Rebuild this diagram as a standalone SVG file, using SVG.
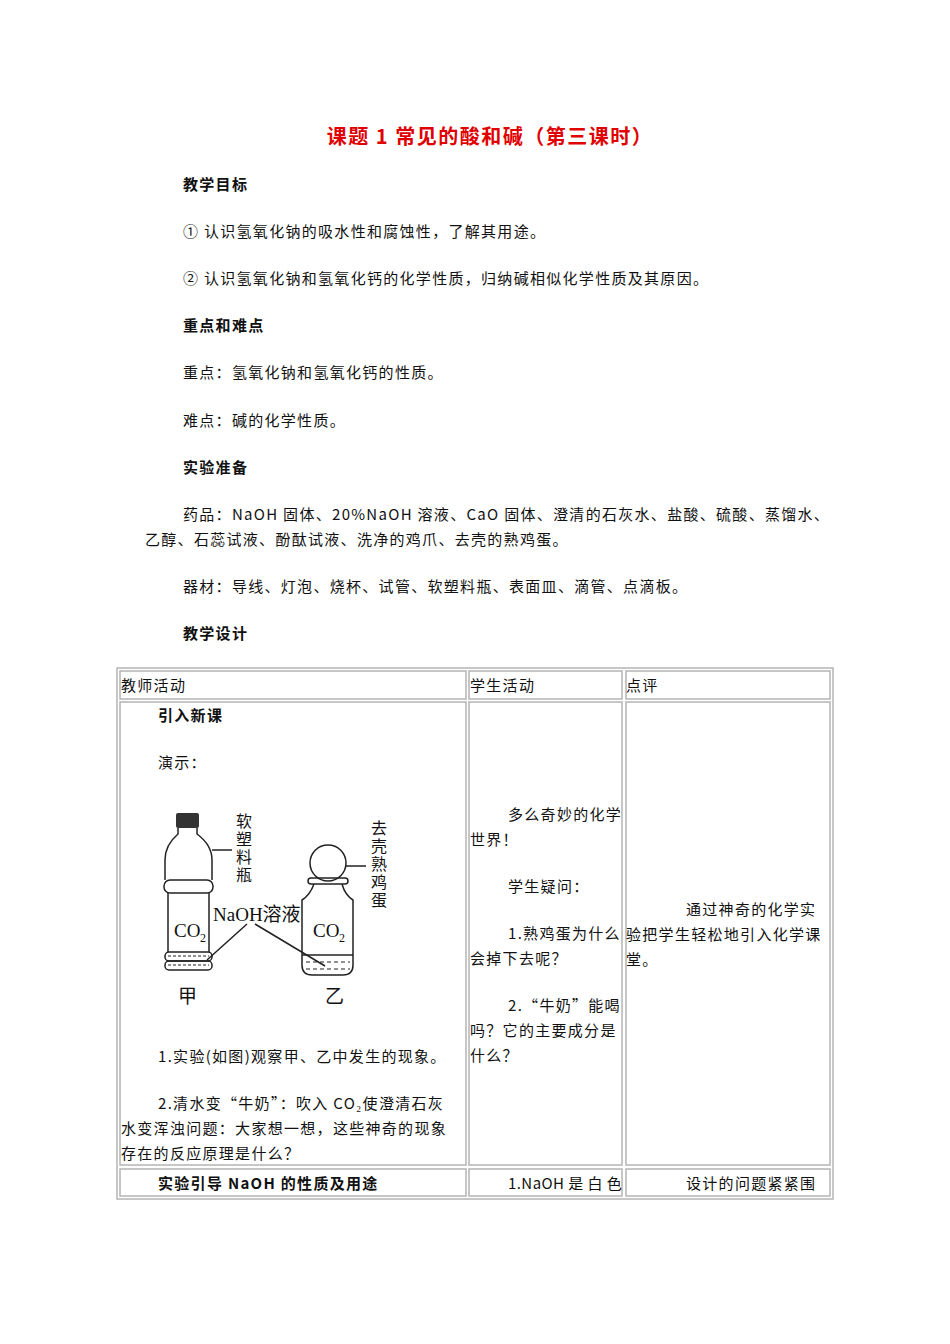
<svg xmlns="http://www.w3.org/2000/svg" width="950" height="1344" viewBox="0 0 950 1344">
<style>
text{font-family:"Noto Sans CJK SC","Liberation Serif",sans-serif;font-size:15px;fill:#111;letter-spacing:1.3px}
.b{font-weight:bold}
.t{font-size:20px;font-weight:bold;fill:#e00000;letter-spacing:1.5px}
.g{fill:none;stroke:#b4b4b4;stroke-width:1.5}
.k{fill:none;stroke:#222;stroke-width:1.5}
.f{font-family:"Liberation Serif","Noto Sans CJK SC",serif;font-size:19px;letter-spacing:0}
.v{font-size:16px;letter-spacing:2px;writing-mode:vertical-rl}
</style>
<rect width="950" height="1344" fill="#fff"/>
<text class="t" x="490" y="144" text-anchor="middle">课题 1  常见的酸和碱（第三课时）</text>
<text class="b" x="183" y="190">教学目标</text>
<text x="183" y="237">① 认识氢氧化钠的吸水性和腐蚀性，了解其用途。</text>
<text x="183" y="284">② 认识氢氧化钠和氢氧化钙的化学性质，归纳碱相似化学性质及其原因。</text>
<text class="b" x="183" y="331">重点和难点</text>
<text x="183" y="378">重点：氢氧化钠和氢氧化钙的性质。</text>
<text x="183" y="426">难点：碱的化学性质。</text>
<text class="b" x="183" y="473">实验准备</text>
<text x="183" y="520">药品：NaOH 固体、20%NaOH 溶液、CaO 固体、澄清的石灰水、盐酸、硫酸、蒸馏水、</text>
<text x="145" y="545">乙醇、石蕊试液、酚酞试液、洗净的鸡爪、去壳的熟鸡蛋。</text>
<text x="183" y="592">器材：导线、灯泡、烧杯、试管、软塑料瓶、表面皿、滴管、点滴板。</text>
<text class="b" x="183" y="639">教学设计</text>
<g id="table">
<rect class="g" x="117" y="668" width="716" height="531"/>
<rect class="g" x="120" y="671" width="346" height="28"/>
<rect class="g" x="469" y="671" width="153" height="28"/>
<rect class="g" x="626" y="671" width="204" height="28"/>
<rect class="g" x="120" y="702" width="346" height="463"/>
<rect class="g" x="469" y="702" width="153" height="463"/>
<rect class="g" x="626" y="702" width="204" height="463"/>
<rect class="g" x="120" y="1169" width="346" height="27"/>
<rect class="g" x="469" y="1169" width="153" height="27"/>
<rect class="g" x="626" y="1169" width="204" height="27"/>
</g>
<text x="121" y="691">教师活动</text>
<text x="470" y="691">学生活动</text>
<text x="626" y="691">点评</text>
<text class="b" x="158" y="721">引入新课</text>
<text x="158" y="768">演示：</text>
<text x="158" y="1062">1.实验(如图)观察甲、乙中发生的现象。</text>
<text x="158" y="1109">2.清水变“牛奶”：吹入 CO₂使澄清石灰</text>
<text x="121" y="1134">水变浑浊问题：大家想一想，这些神奇的现象</text>
<text x="121" y="1159">存在的反应原理是什么？</text>
<text class="b" x="158" y="1189">实验引导 NaOH 的性质及用途</text>
<text x="508" y="820">多么奇妙的化学</text>
<text x="470" y="845">世界！</text>
<text x="508" y="892">学生疑问：</text>
<text x="508" y="939">1.熟鸡蛋为什么</text>
<text x="470" y="964">会掉下去呢？</text>
<text x="508" y="1011">2.“牛奶”能喝</text>
<text x="470" y="1036">吗？它的主要成分是</text>
<text x="470" y="1061">什么？</text>
<text x="508" y="1189" textLength="115">1.NaOH 是 白 色</text>
<text x="686" y="915">通过神奇的化学实</text>
<text x="626" y="940">验把学生轻松地引入化学课</text>
<text x="626" y="965">堂。</text>
<text x="686" y="1189">设计的问题紧紧围</text>
<g id="figure">
<rect x="176" y="813" width="23" height="15" rx="2" fill="#333"/>
<path class="k" d="M178 828 L178 834 Q165 845 165 860 L165 880 M197 828 L197 834 Q212 845 212 860 L212 880"/>
<rect class="k" x="164" y="880" width="49" height="13" rx="6"/>
<path class="k" d="M168 893 V952 M209 893 V952"/>
<rect class="k" x="165" y="952" width="47" height="9" rx="4"/>
<rect class="k" x="165" y="961" width="47" height="9" rx="4"/>
<path d="M168 956 H209 M168 965 H209" stroke="#222" stroke-dasharray="3 2"/>
<path class="k" d="M212 850 H232"/>
<text class="f" x="174" y="937">CO</text><text class="f" x="200" y="942" style="font-size:12px">2</text>
<text class="f" x="178" y="1003">甲</text>
<circle class="k" cx="328" cy="863" r="18"/>
<rect class="k" x="308" y="878" width="40" height="6" rx="3"/>
<path class="k" d="M314 884 Q310 895 302 900 V965 Q302 975 312 975 H343 Q353 975 353 965 V900 Q345 895 342 884"/>
<path class="k" d="M302 955 H353"/>
<path d="M306 962 H350 M306 969 H350" stroke="#222" stroke-dasharray="4 3"/>
<path class="k" d="M346 866 H366"/>
<text class="f" x="313" y="937">CO</text><text class="f" x="339" y="942" style="font-size:12px">2</text>
<text class="f" x="325" y="1003">乙</text>
<text class="f" x="213" y="921">NaOH溶液</text>
<path class="k" d="M247 924 L207 960 M255 924 L325 966"/>
<text class="v" x="244" y="813">软塑料瓶</text>
<text class="v" x="379" y="820">去壳熟鸡蛋</text>
</g>
</svg>
